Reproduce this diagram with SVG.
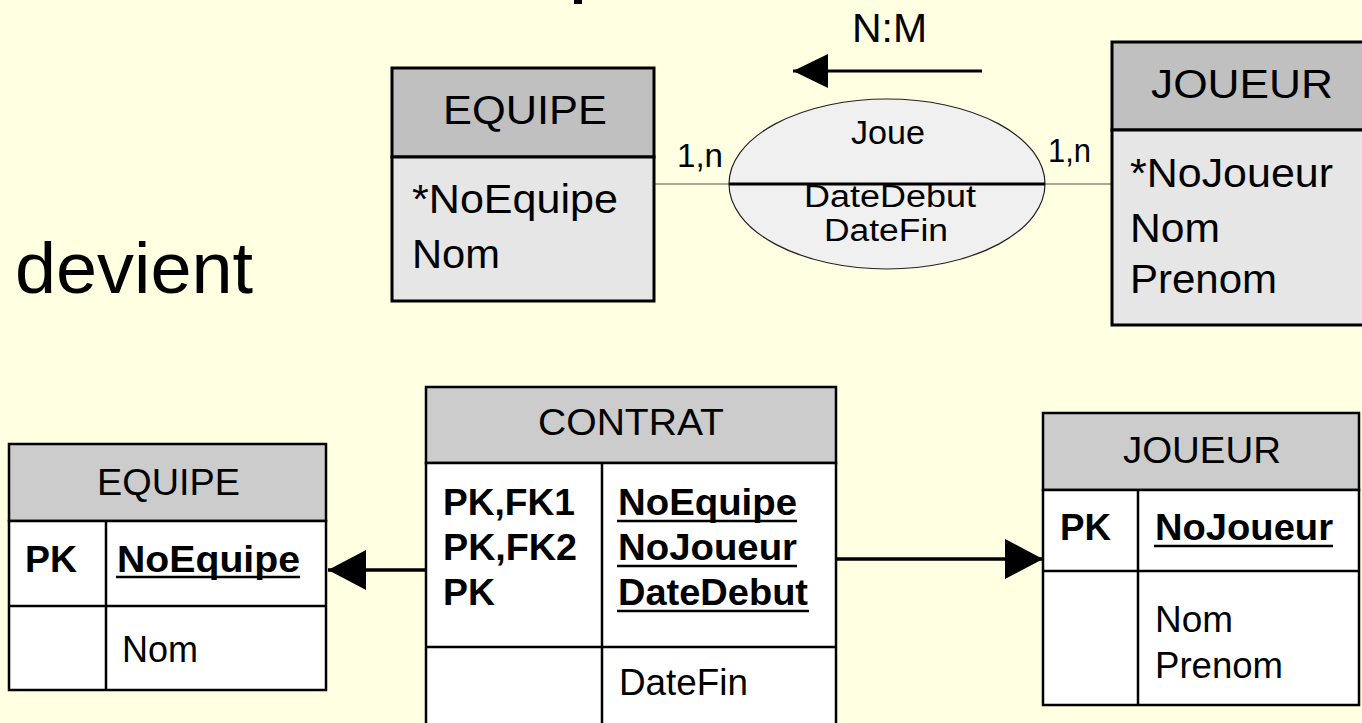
<svg xmlns="http://www.w3.org/2000/svg" width="1362" height="723" viewBox="0 0 1362 723">
<style>
text{font-family:"Liberation Sans",Arial,sans-serif;fill:#000}
.b{font-weight:bold}
.hdrTop{fill:#c0c0c0;stroke:#000;stroke-width:3}
.bodyTop{fill:#e6e6e6;stroke:#000;stroke-width:3}
.hdr{fill:#cccccc;stroke:#000;stroke-width:2.5}
.body{fill:#ffffff;stroke:#000;stroke-width:2.5}
.sep{stroke:#000;stroke-width:2.5}
.ul{stroke:#000;stroke-width:2.5}
.thin{stroke:#555;stroke-width:1.2;fill:none}
.conn{stroke:#000;stroke-width:3.5;fill:none}
</style>
<defs>
<marker id="arrowBig" markerUnits="userSpaceOnUse" viewBox="0 0 38 40" refX="38" refY="20" markerWidth="38" markerHeight="40" orient="auto">
<path d="M0,0 L38,20 L0,40 Z" fill="#000"/>
</marker>
<marker id="arrowSmall" markerUnits="userSpaceOnUse" viewBox="0 0 35 34" refX="35" refY="17" markerWidth="35" markerHeight="34" orient="auto">
<path d="M0,0 L35,17 L0,34 Z" fill="#000"/>
</marker>
</defs>
<rect x="0" y="0" width="1362" height="723" fill="#ffffe1"/>
<rect x="574" y="0" width="8" height="4" fill="#000"/>

<text x="15" y="293" font-size="72" textLength="238" lengthAdjust="spacingAndGlyphs">devient</text>
<text x="852" y="42" font-size="40" textLength="75" lengthAdjust="spacingAndGlyphs">N:M</text>

<g id="connectors">
<line class="thin" x1="654" y1="184" x2="729" y2="184"/>
<line class="thin" x1="1045" y1="184" x2="1112" y2="184"/>
<line stroke="#000" stroke-width="3" x1="982" y1="71" x2="793" y2="71" marker-end="url(#arrowSmall)"/>
<line class="conn" x1="426" y1="570" x2="328" y2="570" marker-end="url(#arrowBig)"/>
<line class="conn" x1="836" y1="559" x2="1043" y2="559" marker-end="url(#arrowBig)"/>
</g>

<g id="equipe-top">
<rect class="hdrTop" x="392" y="68" width="262" height="89"/>
<rect class="bodyTop" x="392" y="157" width="262" height="144"/>
<text x="443" y="124" font-size="41" textLength="164" lengthAdjust="spacingAndGlyphs">EQUIPE</text>
<text x="412" y="213" font-size="41" textLength="206" lengthAdjust="spacingAndGlyphs">*NoEquipe</text>
<text x="412" y="268" font-size="41" textLength="88" lengthAdjust="spacingAndGlyphs">Nom</text>
</g>

<g id="joue">
<ellipse cx="887" cy="184" rx="158" ry="85" fill="#f0f0f0" stroke="#222" stroke-width="1.2"/>
<line x1="729" y1="184" x2="1045" y2="184" stroke="#000" stroke-width="3"/>
<text x="851" y="144" font-size="34" textLength="74" lengthAdjust="spacingAndGlyphs">Joue</text>
<text x="804" y="207" font-size="31" textLength="172" lengthAdjust="spacingAndGlyphs">DateDebut</text>
<text x="824" y="241" font-size="31" textLength="124" lengthAdjust="spacingAndGlyphs">DateFin</text>
<text x="677" y="167" font-size="34" textLength="46" lengthAdjust="spacingAndGlyphs">1,n</text>
<text x="1048" y="162" font-size="34" textLength="43" lengthAdjust="spacingAndGlyphs">1,n</text>
</g>

<g id="joueur-top">
<rect class="hdrTop" x="1112" y="42" width="260" height="88"/>
<rect class="bodyTop" x="1112" y="130" width="260" height="195"/>
<text x="1151" y="98" font-size="41" textLength="182" lengthAdjust="spacingAndGlyphs">JOUEUR</text>
<text x="1130" y="187" font-size="41" textLength="203" lengthAdjust="spacingAndGlyphs">*NoJoueur</text>
<text x="1130" y="242" font-size="41" textLength="90" lengthAdjust="spacingAndGlyphs">Nom</text>
<text x="1130" y="293" font-size="41" textLength="147" lengthAdjust="spacingAndGlyphs">Prenom</text>
</g>

<g id="equipe-table">
<rect class="hdr" x="9" y="444" width="317" height="77"/>
<rect class="body" x="9" y="521" width="317" height="169"/>
<line class="sep" x1="9" y1="606" x2="326" y2="606"/>
<line class="sep" x1="106" y1="521" x2="106" y2="690"/>
<text x="97" y="495" font-size="37" textLength="143" lengthAdjust="spacingAndGlyphs">EQUIPE</text>
<text class="b" x="25" y="572" font-size="36" textLength="52" lengthAdjust="spacingAndGlyphs">PK</text>
<text class="b" x="117" y="572" font-size="36" textLength="183" lengthAdjust="spacingAndGlyphs">NoEquipe</text>
<line class="ul" x1="116" y1="577" x2="300" y2="577"/>
<text x="122" y="662" font-size="36" textLength="76" lengthAdjust="spacingAndGlyphs">Nom</text>
</g>

<g id="contrat-table">
<rect class="hdr" x="426" y="387" width="410" height="76"/>
<rect class="body" x="426" y="463" width="410" height="270"/>
<line class="sep" x1="426" y1="647" x2="836" y2="647"/>
<line class="sep" x1="602" y1="463" x2="602" y2="733"/>
<text x="538" y="435" font-size="37" textLength="186" lengthAdjust="spacingAndGlyphs">CONTRAT</text>
<text class="b" x="443" y="515" font-size="36" textLength="132" lengthAdjust="spacingAndGlyphs">PK,FK1</text>
<text class="b" x="443" y="560" font-size="36" textLength="134" lengthAdjust="spacingAndGlyphs">PK,FK2</text>
<text class="b" x="443" y="605" font-size="36" textLength="52" lengthAdjust="spacingAndGlyphs">PK</text>
<text class="b" x="618" y="515" font-size="36" textLength="179" lengthAdjust="spacingAndGlyphs">NoEquipe</text>
<line class="ul" x1="617" y1="521" x2="797" y2="521"/>
<text class="b" x="618" y="560" font-size="36" textLength="179" lengthAdjust="spacingAndGlyphs">NoJoueur</text>
<line class="ul" x1="617" y1="566" x2="797" y2="566"/>
<text class="b" x="618" y="605" font-size="36" textLength="190" lengthAdjust="spacingAndGlyphs">DateDebut</text>
<line class="ul" x1="617" y1="611" x2="809" y2="611"/>
<text x="619" y="695" font-size="36" textLength="129" lengthAdjust="spacingAndGlyphs">DateFin</text>
</g>

<g id="joueur-table">
<rect class="hdr" x="1043" y="413" width="316" height="77"/>
<rect class="body" x="1043" y="490" width="316" height="215"/>
<line class="sep" x1="1043" y1="571" x2="1359" y2="571"/>
<line class="sep" x1="1138" y1="490" x2="1138" y2="705"/>
<text x="1123" y="463" font-size="37" textLength="158" lengthAdjust="spacingAndGlyphs">JOUEUR</text>
<text class="b" x="1060" y="540" font-size="36" textLength="51" lengthAdjust="spacingAndGlyphs">PK</text>
<text class="b" x="1155" y="540" font-size="36" textLength="178" lengthAdjust="spacingAndGlyphs">NoJoueur</text>
<line class="ul" x1="1154" y1="546" x2="1333" y2="546"/>
<text x="1155" y="632" font-size="36" textLength="78" lengthAdjust="spacingAndGlyphs">Nom</text>
<text x="1155" y="678" font-size="36" textLength="128" lengthAdjust="spacingAndGlyphs">Prenom</text>
</g>
</svg>
